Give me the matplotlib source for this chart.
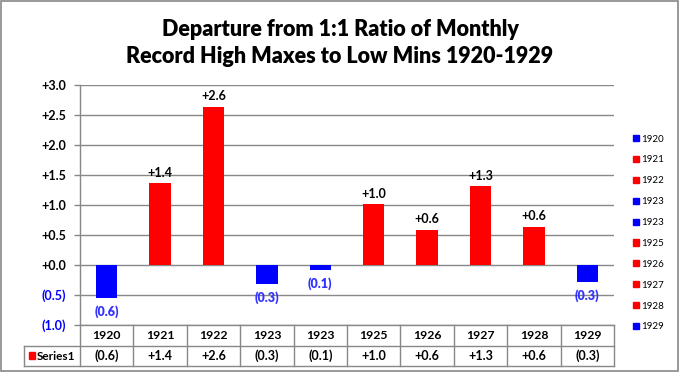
import matplotlib
matplotlib.use("Agg")
import matplotlib.pyplot as plt
from matplotlib.patches import Patch, Rectangle
from matplotlib.lines import Line2D
import matplotlib.transforms as mtransforms

categories = ["1920", "1921", "1922", "1923", "1923", "1925", "1926", "1927", "1928", "1929"]
values = [-0.55, 1.36, 2.64, -0.32, -0.09, 1.01, 0.59, 1.31, 0.64, -0.29]
series_name = "Series1"
yticks = [-1.0, -0.5, 0.0, 0.5, 1.0, 1.5, 2.0, 2.5, 3.0]
title = "Departure from 1:1 Ratio of Monthly\nRecord High Maxes to Low Mins 1920-1929"

RED = "#FF0000"
BLUE = "#0000FF"
NEGTXT = "#3333FF"
GRID = "#888888"

plt.rcParams["font.family"] = ["Lato", "DejaVu Sans"]

def fmt(v):
    return f"({abs(v):.1f})" if v < 0 else f"+{v:.1f}"

W, H = 680, 373
fig = plt.figure(figsize=(W / 100, H / 100), dpi=100)
L, R, T, B = 80, 614, 85, 325
ax = fig.add_axes([L / W, 1 - B / H, (R - L) / W, (B - T) / H])

x = list(range(len(categories)))
colors = [BLUE if v < 0 else RED for v in values]
ax.bar(x, values, width=0.4, color=colors, zorder=3)

ax.set_xlim(-0.5, len(categories) - 0.5)
ax.set_ylim(-1.0, 3.0)
ax.set_yticks(yticks)
ax.set_yticklabels([fmt(t) if t < 0 else f"+{t:.1f}" for t in yticks])
for lab, t in zip(ax.get_yticklabels(), yticks):
    lab.set_color(BLUE if t < 0 else "black")
    lab.set_fontweight("bold")
    lab.set_fontsize(9)
ax.tick_params(axis="y", length=4, width=1, color=GRID, pad=6)
ax.set_xticks([])
ax.yaxis.grid(True, color=GRID, linewidth=1, zorder=0)
ax.set_axisbelow(True)
for s in ["top", "right", "bottom"]:
    ax.spines[s].set_visible(False)
ax.spines["left"].set_color(GRID)
ax.spines["left"].set_linewidth(1)

# data labels
for xi, v in zip(x, values):
    if v >= 0:
        ax.annotate(fmt(v), (xi, v), xytext=(0, 3), textcoords="offset points",
                    ha="center", va="bottom", fontsize=9, fontweight="bold", color="black")
    else:
        ax.annotate(fmt(v), (xi, v), xytext=(0, -5), textcoords="offset points",
                    ha="center", va="top", fontsize=9, color=NEGTXT, fontweight="heavy")

# data table below the axes
trans = mtransforms.blended_transform_factory(ax.transData, ax.transAxes)
ph = B - T
def ay(py):
    return -(py - B) / ph
y_hdr_bot = ay(346)
y_row_bot = ay(366)
cw = (R - L) / len(categories)
x_left_tbl = -0.5 - (L - 24) / cw

ax.add_line(Line2D([-0.5, len(categories) - 0.5], [0, 0], transform=trans, color=GRID, lw=1, clip_on=False))
ax.add_line(Line2D([x_left_tbl, len(categories) - 0.5], [y_hdr_bot, y_hdr_bot], transform=trans, color=GRID, lw=1, clip_on=False))
ax.add_line(Line2D([x_left_tbl, len(categories) - 0.5], [y_row_bot, y_row_bot], transform=trans, color=GRID, lw=1, clip_on=False))
ax.add_line(Line2D([x_left_tbl, x_left_tbl], [y_hdr_bot, y_row_bot], transform=trans, color=GRID, lw=1, clip_on=False))
ax.add_line(Line2D([-0.5, -0.5], [0, y_row_bot], transform=trans, color=GRID, lw=1, clip_on=False))
for i in range(len(categories)):
    xb = i + 0.5
    ax.add_line(Line2D([xb, xb], [0, y_row_bot], transform=trans, color=GRID, lw=1, clip_on=False))

y_hdr_c = (0 + y_hdr_bot) / 2
y_row_c = (y_hdr_bot + y_row_bot) / 2
for xi, c, v in zip(x, categories, values):
    ax.text(xi, y_hdr_c, c, transform=trans, ha="center", va="center", fontsize=8.8, fontweight="bold")
    ax.text(xi, y_row_c, fmt(v), transform=trans, ha="center", va="center", fontsize=9, fontweight="bold")

# Series1 legend key in table
ax.add_patch(Rectangle((x_left_tbl + 0.09, y_row_c - 0.014), 0.11, 0.03, transform=trans,
                       color=RED, clip_on=False))
ax.text(x_left_tbl + 0.24, y_row_c, series_name, transform=trans, ha="left", va="center",
        fontsize=8.5, fontweight="bold")

# Right legend
handles = [Patch(facecolor=c, edgecolor=c) for c in colors]
leg = fig.legend(handles, categories, loc="center left", bbox_to_anchor=(628 / W, 1 - 233 / H),
                 frameon=False, fontsize=7, handlelength=0.6, handleheight=0.6,
                 handletextpad=0.3, labelspacing=1.22, borderpad=0)

fig.text(0.5, 1 - 43 / H, title, ha="center", va="center", fontsize=15.5, fontweight="heavy",
         linespacing=1.3)

fig.add_artist(Rectangle((1 / W, 2 / H), (W - 3) / W, (H - 3) / H, transform=fig.transFigure,
                         fill=False, edgecolor=GRID, lw=1.2))

fig.savefig("out.png", dpi=100)
